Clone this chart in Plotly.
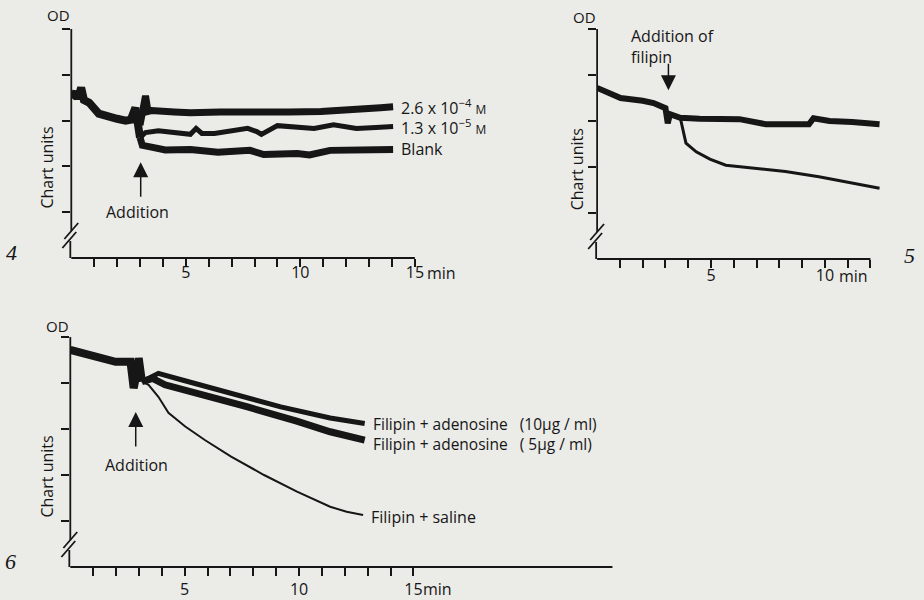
import plotly.graph_objects as go

# ---------------- DATA (time in min, OD in chart units) ----------------
# Panel 4
P4_COMMON_T = [0, 0.2, 0.3, 0.43, 0.55, 0.78, 1.2, 1.64, 2.0, 2.37, 2.6, 2.8, 2.9, 3.0]
P4_COMMON_V = [3.50, 3.62, 3.48, 3.72, 3.45, 3.39, 3.15, 3.07, 3.04, 3.00, 3.02, 3.28, 3.00, 2.63]
P4_HIGH_T = [3.0, 3.24, 3.35, 3.5, 4.5, 5.2, 6.5, 8.1, 9.5, 10.9, 12.0, 12.7, 13.5, 14.05]
P4_HIGH_V = [2.90, 3.54, 3.20, 3.22, 3.19, 3.17, 3.19, 3.17, 3.19, 3.20, 3.22, 3.26, 3.28, 3.30]
P4_MID_T = [3.0, 3.24, 3.8, 4.67, 5.2, 5.45, 5.7, 6.25, 7.0, 7.7, 8.1, 8.3, 9.0, 9.9,
            10.6, 11.45, 12.45, 13.3, 14.05]
P4_MID_V = [2.63, 2.74, 2.78, 2.72, 2.70, 2.83, 2.72, 2.72, 2.77, 2.83, 2.76, 2.70, 2.89, 2.87,
            2.83, 2.91, 2.83, 2.85, 2.87]
P4_BLANK_T = [3.0, 3.1, 3.5, 4.1, 5.2, 6.4, 7.8, 8.4, 9.86, 10.4, 11.3, 12.5, 14.05]
P4_BLANK_V = [2.63, 2.46, 2.42, 2.36, 2.37, 2.31, 2.35, 2.26, 2.28, 2.25, 2.35, 2.35, 2.37]
P4_LABELS = ["2.6 x 10<sup>−4</sup> <span style='font-size:12px'>M</span>",
             "1.3 x 10<sup>−5</sup> <span style='font-size:12px'>M</span>",
             "Blank"]

# Panel 5
P5_CTRL_T = [0, 1.03, 2.0, 2.48, 3.0, 3.1, 3.2, 3.65, 4.5, 5.4, 6.25, 7.4, 8.5, 9.3, 9.5,
             10.2, 11.2, 12.4]
P5_CTRL_V = [3.72, 3.50, 3.44, 3.39, 3.28, 2.95, 3.15, 3.07, 3.05, 3.04, 3.04, 2.93, 2.93,
             2.93, 3.06, 3.00, 2.98, 2.93]
P5_FIL_T = [3.65, 3.9, 4.35, 4.95, 5.65, 6.83, 8.27, 9.74, 11.17, 12.4]
P5_FIL_V = [3.07, 2.52, 2.33, 2.17, 2.04, 1.97, 1.90, 1.79, 1.66, 1.54]

# Panel 6
P6_COMMON_T = [0, 0.68, 1.25, 1.98, 2.63, 2.77, 2.9, 2.99, 3.13]
P6_COMMON_V = [4.72, 4.64, 4.54, 4.46, 4.46, 3.89, 4.20, 4.54, 4.03]
P6_AD10_T = [3.13, 3.85, 4.85, 7.03, 9.2, 11.36, 12.87]
P6_AD10_V = [4.03, 4.21, 4.07, 3.78, 3.48, 3.24, 3.12]
P6_AD5_T = [3.13, 3.6, 4.14, 5.58, 7.75, 9.9, 11.36, 12.87]
P6_AD5_V = [4.03, 4.10, 3.96, 3.78, 3.48, 3.17, 2.94, 2.76]
P6_SAL_T = [3.13, 3.42, 3.85, 4.29, 5.01, 5.88, 7.03, 8.47, 9.91, 11.36, 12.08, 12.8]
P6_SAL_V = [4.03, 3.96, 3.70, 3.35, 3.06, 2.76, 2.40, 2.00, 1.64, 1.31, 1.20, 1.13]
P6_LABELS = ["Filipin + adenosine   (10µg / ml)",
             "Filipin + adenosine   ( 5µg / ml)",
             "Filipin + saline"]

# Ticks
Y_TICKS = [1, 2, 3, 4, 5]
P4_XTICKS = list(range(1, 16))
P4_XLABELS = ["", "", "", "", "5", "", "", "", "", "10", "", "", "", "", "15"]
P5_XTICKS = list(range(1, 13))
P5_XLABELS = ["", "", "", "", "5", "", "", "", "", "10", "", ""]
P6_XTICKS = list(range(1, 16))
P6_XLABELS = ["", "", "", "", "5", "", "", "", "", "10", "", "", "", "", "15"]

# ---------------- STYLE ----------------
W, H = 924, 600
BG = "#ebebe8"
INK = "#161616"
FONT = "Open Sans"


def fx(p):
    return p / W


def fy(p):
    return 1 - p / H


fig = go.Figure()


def line(x, y, width, xa, ya):
    fig.add_trace(go.Scatter(x=x, y=y, mode="lines", xaxis=xa, yaxis=ya,
                             line=dict(color=INK, width=width, shape="linear"),
                             hoverinfo="skip", showlegend=False))


# Panel 4 traces
line(P4_COMMON_T, P4_COMMON_V, 8, "x", "y")
line(P4_HIGH_T, P4_HIGH_V, 7, "x", "y")
line(P4_MID_T, P4_MID_V, 5, "x", "y")
line(P4_BLANK_T, P4_BLANK_V, 7, "x", "y")
# Panel 5 traces
line(P5_CTRL_T, P5_CTRL_V, 6, "x2", "y2")
line(P5_FIL_T, P5_FIL_V, 3, "x2", "y2")
# Panel 6 traces
line(P6_COMMON_T, P6_COMMON_V, 8, "x3", "y3")
line(P6_AD10_T, P6_AD10_V, 5, "x3", "y3")
line(P6_AD5_T, P6_AD5_V, 7, "x3", "y3")
line(P6_SAL_T, P6_SAL_V, 2, "x3", "y3")

# panel geometry in pixels
panels = [
    dict(x0=72, ppm=23.13, xmax=15, ybot=258, ytop=29, xend=15, ticks=P4_XTICKS,
         labels=P4_XLABELS, standoff=-8),
    dict(x0=603, ppm=23.0, xmax=12.5, ybot=259, ytop=29, xend=12, ticks=P5_XTICKS,
         labels=P5_XLABELS, standoff=-6),
    dict(x0=71, ppm=23.1, xmax=24, ybot=567, ytop=337, xend=23.7, ticks=P6_XTICKS,
         labels=P6_XLABELS, standoff=0),
]

axis_common = dict(showgrid=False, zeroline=False, showline=False, ticks="outside",
                   ticklen=8, tickwidth=1.5, tickcolor=INK, fixedrange=True)

layout_axes = {}
shapes = []
for i, p in enumerate(panels):
    suf = "" if i == 0 else str(i + 1)
    x1px = p["x0"] + p["xmax"] * p["ppm"]
    layout_axes["xaxis" + suf] = dict(
        axis_common, domain=[fx(p["x0"]), fx(x1px)], range=[0, p["xmax"]],
        anchor="y" + suf, tickmode="array", tickvals=p["ticks"], ticktext=p["labels"],
        ticklabelstandoff=p["standoff"],
        tickfont=dict(family=FONT, size=16, color=INK))
    layout_axes["yaxis" + suf] = dict(
        axis_common, domain=[fy(p["ybot"]), fy(p["ytop"])], range=[0, 5],
        anchor="x" + suf, tickmode="array", tickvals=Y_TICKS, showticklabels=False)
    # axis lines drawn as shapes (with break on y axis)
    ax = p["x0"]
    yb = p["ybot"]
    xe = p["x0"] + p["xend"] * p["ppm"]
    L = dict(color=INK, width=1.8)
    shapes += [
        dict(type="line", xref="paper", yref="paper", x0=fx(ax), x1=fx(xe), y0=fy(yb), y1=fy(yb), line=L),
        dict(type="line", xref="paper", yref="paper", x0=fx(ax), x1=fx(ax), y0=fy(p["ytop"]), y1=fy(yb - 27), line=L),
        dict(type="line", xref="paper", yref="paper", x0=fx(ax - 1), x1=fx(ax - 1), y0=fy(yb - 17), y1=fy(yb), line=L),
        dict(type="line", xref="paper", yref="paper", x0=fx(ax - 7), x1=fx(ax + 7), y0=fy(yb - 19), y1=fy(yb - 35), line=L),
        dict(type="line", xref="paper", yref="paper", x0=fx(ax - 9), x1=fx(ax + 5), y0=fy(yb - 10), y1=fy(yb - 26), line=L),
    ]

ann = []


def text(xp, yp, s, size=15, xanchor="center", angle=0, family=FONT, align="center"):
    ann.append(dict(x=fx(xp), y=fy(yp), xref="paper", yref="paper", text=s, showarrow=False,
                    xanchor=xanchor, yanchor="middle", textangle=angle, align=align,
                    font=dict(family=family, size=size, color=INK)))


# "OD" and "Chart units"
text(73, 15, "OD", 15, xanchor="right")
text(604, 17, "OD", 15, xanchor="right")
text(72, 326, "OD", 15, xanchor="right")
text(47, 168, "Chart units", 16, angle=-90)
text(583, 169, "Chart units", 16, angle=-90)
text(47, 477, "Chart units", 16, angle=-90)
# "min" suffixes
text(429, 273, "min", 16, xanchor="left")
text(845, 276, "min", 16, xanchor="left")
text(425, 589, "min", 16, xanchor="left")
# Panel numbers
text(12, 253, "<i>4</i>", 22, family="Liberation Serif")
text(918, 255, "<i>5</i>", 22, family="Liberation Serif")
text(11, 561, "<i>6</i>", 22, family="Liberation Serif")

# Series end labels
for t, v, s in zip([P4_HIGH_T, P4_MID_T, P4_BLANK_T], [P4_HIGH_V, P4_MID_V, P4_BLANK_V], P4_LABELS):
    ann.append(dict(x=t[-1], y=v[-1], xref="x", yref="y", text=s, showarrow=False,
                    xanchor="left", yanchor="middle", xshift=6, font=dict(family=FONT, size=16, color=INK)))
# two adenosine labels stacked in one block, centred between their line ends
ann.append(dict(x=P6_AD10_T[-1], y=(P6_AD10_V[-1] + P6_AD5_V[-1]) / 2, xref="x3", yref="y3",
                text=P6_LABELS[0] + "<br>" + P6_LABELS[1], showarrow=False, align="left",
                xanchor="left", yanchor="middle", xshift=6, yshift=-2,
                font=dict(family=FONT, size=15.5, color=INK)))
ann.append(dict(x=P6_SAL_T[-1], y=P6_SAL_V[-1], xref="x3", yref="y3", text=P6_LABELS[2],
                showarrow=False, xanchor="left", yanchor="middle", xshift=6, yshift=-2,
                font=dict(family=FONT, size=16, color=INK)))

# Arrows
ARROW = dict(showarrow=True, arrowhead=2, arrowsize=2.0, arrowwidth=1.5, arrowcolor=INK,
             text="", ax=0, axref="pixel", ayref="pixel")
ann.append(dict(ARROW, x=3.03, y=2.09, xref="x", yref="y", ay=36))
text(139, 212, "Addition", 16)
ann.append(dict(ARROW, x=3.13, y=3.67, xref="x2", yref="y2", ay=-28))
text(635, 46, "Addition of<br>filipin", 16, xanchor="left", align="left")
ann.append(dict(ARROW, x=2.86, y=3.37, xref="x3", yref="y3", ay=36))
text(138, 465, "Addition", 16)

fig.update_layout(
    width=W, height=H, margin=dict(l=0, r=0, t=0, b=0),
    paper_bgcolor=BG, plot_bgcolor=BG, showlegend=False,
    shapes=shapes, annotations=ann, **layout_axes)

fig.write_html("out.html")
